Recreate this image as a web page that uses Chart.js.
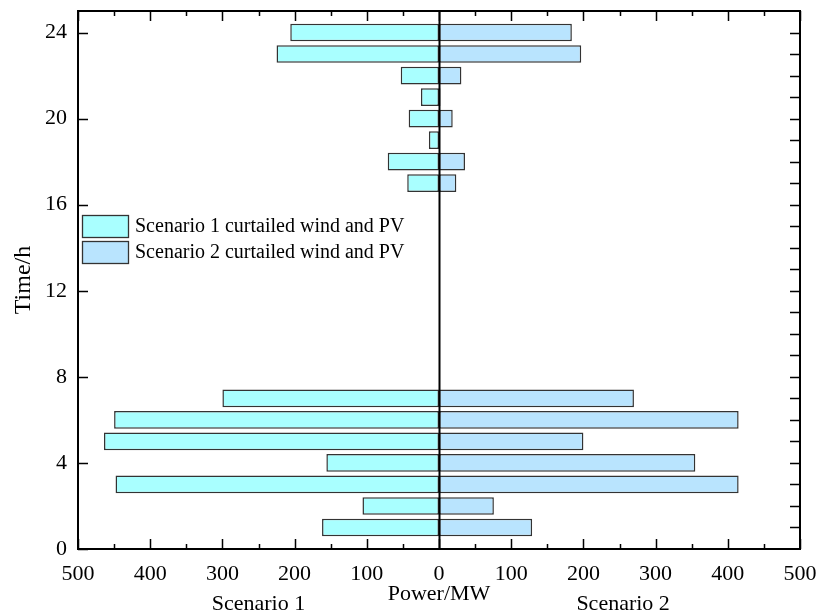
<!DOCTYPE html>
<html>
<head>
<meta charset="utf-8">
<script src="https://cdn.jsdelivr.net/npm/chart.js@4.4.0/dist/chart.umd.min.js"></script>
<style>
  html, body { margin: 0; padding: 0; background: #fff; }
  #wrap { width: 817px; height: 615px; }
</style>
</head>
<body>
<div id="wrap"><canvas id="myChart" width="817" height="615"></canvas></div>
<script>
// hours that have curtailment
var hours = [1, 2, 3, 4, 5, 6, 7, 17, 18, 19, 20, 21, 22, 23, 24];
// scenario 1 drawn to the left (negative), scenario 2 to the right
var scenario1 = [162, 106, 448, 156, 464, 450, 300, 44, 71, 14, 42, 25, 53, 225, 206];
var scenario2 = [129, 76, 415, 355, 200, 415, 270, 24, 36, 0, 19, 2, 31, 197, 184];
var labels = ['Scenario 1 curtailed wind and PV', 'Scenario 2 curtailed wind and PV'];
var yTicks = [0, 4, 8, 12, 16, 20, 24];
var serif = "'Liberation Serif', 'Times New Roman', serif";

var s1Points = hours.map(function(h, i){ return {x: -scenario1[i], y: h}; });
var s2Points = hours.map(function(h, i){ return {x: scenario2[i], y: h}; });

// frame, inward ticks, zero line, legend and scenario captions
var decor = {
  id: 'decor',
  afterDraw: function(chart){
    var ctx = chart.ctx;
    var a = chart.chartArea;
    var xs = chart.scales.x, ys = chart.scales.y;
    ctx.save();
    ctx.strokeStyle = '#000';
    ctx.lineWidth = 1.5;
    ctx.beginPath();
    // x ticks every 50, top and bottom
    for (var v = -500; v <= 500; v += 50) {
      var px = Math.round(xs.getPixelForValue(v)) + 0.5;
      var len = (v % 100 === 0) ? 10 : 5;
      ctx.moveTo(px, a.bottom); ctx.lineTo(px, a.bottom - len);
      ctx.moveTo(px, a.top); ctx.lineTo(px, a.top + len);
    }
    // left ticks on the labelled values
    yTicks.forEach(function(t){
      var py = Math.round(ys.getPixelForValue(t)) + 0.5;
      ctx.moveTo(a.left, py); ctx.lineTo(a.left + 10, py);
    });
    // right ticks every hour
    for (var h = 1; h <= 24; h++) {
      var py2 = Math.round(ys.getPixelForValue(h)) + 0.5;
      ctx.moveTo(a.right, py2); ctx.lineTo(a.right - 10, py2);
    }
    ctx.stroke();

    ctx.lineWidth = 2;
    ctx.strokeRect(a.left, a.top, a.right - a.left, a.bottom - a.top);

    // zero line
    var zx = Math.round(xs.getPixelForValue(0)) + 0.5;
    ctx.beginPath();
    ctx.moveTo(zx, a.top); ctx.lineTo(zx, a.bottom);
    ctx.stroke();

    // legend
    ctx.font = '20px ' + serif;
    ctx.textBaseline = 'middle';
    ctx.textAlign = 'left';
    chart.data.datasets.forEach(function(ds, i){
      var top = 215 + i * 26;
      ctx.fillStyle = ds.backgroundColor;
      ctx.fillRect(82, top, 46, 22);
      ctx.strokeStyle = '#333';
      ctx.lineWidth = 1.3;
      ctx.strokeRect(82.5, top + 0.5, 46, 22);
      ctx.fillStyle = '#000';
      ctx.fillText(ds.label, 135, top + 12);
    });

    // scenario captions
    ctx.font = '22px ' + serif;
    ctx.textAlign = 'center';
    ctx.fillText('Scenario 1', xs.getPixelForValue(-250), 604);
    ctx.fillText('Scenario 2', xs.getPixelForValue(255), 604);
    ctx.restore();
  }
};

function noEdgePadding(s){
  s.paddingTop = 0; s.paddingBottom = 0;
  s.paddingLeft = 0; s.paddingRight = 0;
}

var ctx = document.getElementById('myChart').getContext('2d');
var chart = new Chart(ctx, {
  type: 'bar',
  data: {
    datasets: [{
      label: labels[0],
      data: s1Points,
      backgroundColor: '#A9FFFF',
      borderColor: '#333333',
      borderWidth: 1.5,
      borderSkipped: false,
      categoryPercentage: 1,
      barPercentage: 0.82
    }, {
      label: labels[1],
      data: s2Points,
      backgroundColor: '#B9E4FE',
      borderColor: '#333333',
      borderWidth: 1.5,
      borderSkipped: false,
      categoryPercentage: 1,
      barPercentage: 0.82
    }]
  },
  options: {
    indexAxis: 'y',
    responsive: false,
    animation: false,
    layout: { padding: { top: 11, right: 17, left: 0, bottom: 0 } },
    plugins: {
      legend: { display: false },
      tooltip: { enabled: false }
    },
    scales: {
      x: {
        type: 'linear',
        stacked: true,
        min: -500,
        max: 500,
        grid: { display: false, drawTicks: false },
        border: { display: false },
        ticks: {
          stepSize: 100,
          padding: 12,
          color: '#000',
          font: { family: serif, size: 22 },
          maxRotation: 0,
          callback: function(v){ return Math.abs(v); }
        },
        title: {
          display: true,
          text: 'Power/MW',
          color: '#000',
          font: { family: serif, size: 22 },
          padding: { top: 0, bottom: 8 }
        },
        afterFit: function(s){ s.height = 66; noEdgePadding(s); }
      },
      y: {
        type: 'linear',
        stacked: true,
        offset: false,
        min: 0,
        max: 25,
        grid: { display: false, drawTicks: false },
        border: { display: false },
        ticks: {
          padding: 11,
          color: '#000',
          font: { family: serif, size: 22 }
        },
        afterBuildTicks: function(s){
          s.ticks = yTicks.map(function(v){ return {value: v}; });
        },
        title: {
          display: true,
          text: 'Time/h',
          color: '#000',
          font: { family: serif, size: 24 },
          padding: { top: 9, bottom: 0 }
        },
        afterFit: function(s){ s.width = 78; noEdgePadding(s); }
      }
    }
  },
  plugins: [decor]
});
</script>
</body>
</html>
